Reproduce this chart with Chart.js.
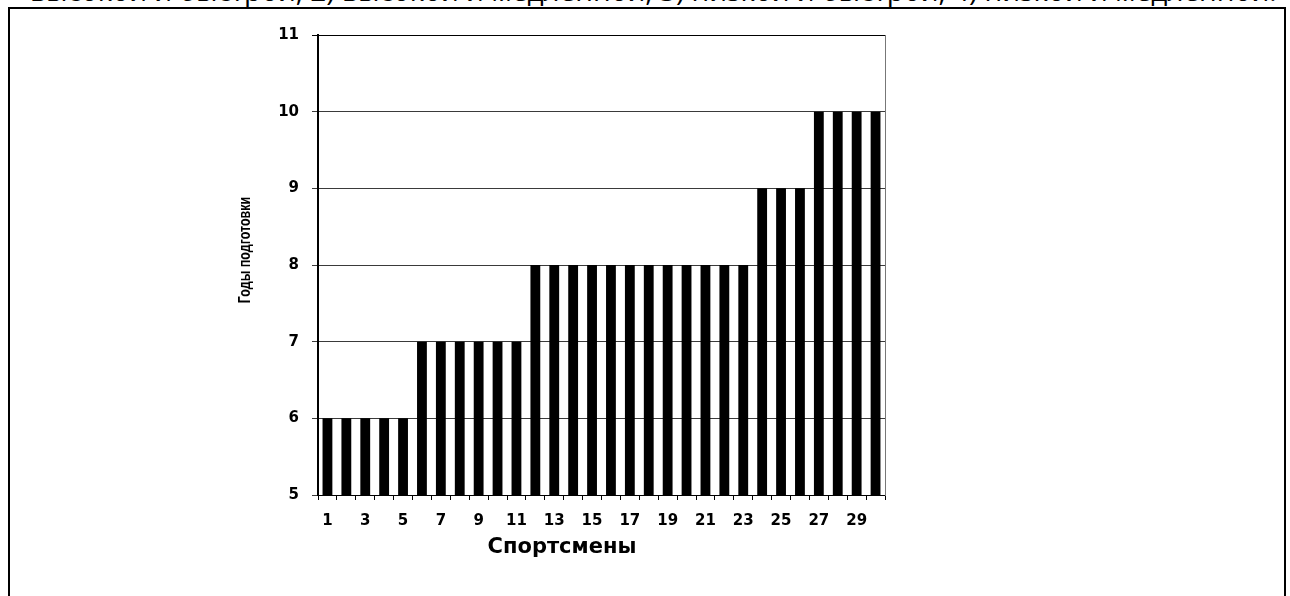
<!DOCTYPE html>
<html>
<head>
<meta charset="utf-8">
<script src="https://cdn.jsdelivr.net/npm/chart.js@4.4.1/dist/chart.umd.min.js"></script>
<style>
  html, body { margin: 0; padding: 0; background: #fff; }
  body { width: 1290px; height: 596px; position: relative; overflow: hidden; }
  #cut {
    position: absolute; left: 30px; top: -24px;
    font: 28px/28px 'Open Sans', 'Liberation Sans', sans-serif;
    white-space: nowrap; color: #000;
  }
  #frame {
    position: absolute; left: 8px; top: 7px; width: 1278px; height: 620px;
    border: 2px solid #000; box-sizing: border-box; background: transparent;
  }
  #wrap { position: absolute; left: 0; top: 0; width: 1290px; height: 596px; }
</style>
</head>
<body>
<div id="cut">высокой и быстрой, 2) высокой и медленной, 3) низкой и быстрой, 4) низкой и медленной.</div>
<div id="frame"></div>
<div id="wrap"><canvas id="chartYears"></canvas></div>
<script>
// ----- data -----
const athletes = Array.from({ length: 30 }, (_, i) => String(i + 1));
const years = [6, 6, 6, 6, 6, 7, 7, 7, 7, 7, 7, 8, 8, 8, 8, 8, 8, 8, 8, 8, 8, 8, 8, 9, 9, 9, 10, 10, 10, 10];
const yTicks = [5, 6, 7, 8, 9, 10, 11];
const xTitle = 'Спортсмены';
const yTitle = 'Годы подготовки';

const TICKFONT = "'DejaVu Sans', 'Liberation Sans', sans-serif";

// axis titles: in the scan they sit off the plot centre, so draw them by hand
const axisTitles = {
  id: 'axisTitles',
  afterDraw(chart) {
    const c = chart.ctx;
    c.save();
    c.fillStyle = '#000';
    c.textAlign = 'center';
    c.textBaseline = 'middle';

    c.font = "bold 21px 'DejaVu Sans', 'Liberation Sans', sans-serif";
    c.fillText(xTitle, 562, 548);

    // narrow bold face, squeezed along the text direction
    c.translate(246, 250);
    c.rotate(-Math.PI / 2);
    c.scale(0.78, 1);
    c.font = "bold 16px 'Liberation Sans', Arial, sans-serif";
    c.fillText(yTitle, 0, 0);
    c.restore();
  }
};

new Chart(document.getElementById('chartYears'), {
  type: 'bar',
  data: {
    labels: athletes,
    datasets: [{
      data: years,
      backgroundColor: '#000',
      borderWidth: 0,
      barPercentage: 0.52,
      categoryPercentage: 1
    }]
  },
  plugins: [axisTitles],
  options: {
    responsive: true,
    maintainAspectRatio: false,
    animation: false,
    devicePixelRatio: 1,
    layout: { padding: { left: 0, top: 35, right: 405, bottom: 0 } },
    plugins: { legend: { display: false }, tooltip: { enabled: false } },
    scales: {
      x: {
        afterFit: (s) => { s.height = 101; },
        grid: { display: true, drawOnChartArea: false, color: '#000', tickLength: 5, lineWidth: 1 },
        border: { display: true, color: '#000', width: 1 },
        ticks: {
          autoSkip: false, maxRotation: 0, padding: 12, color: '#000',
          font: { family: TICKFONT, size: 15, weight: 'bold' },
          callback: (v, i) => (i % 2 === 0 ? athletes[i] : '')
        }
      },
      y: {
        min: 5, max: 11,
        afterFit: (s) => { s.width = 318; },
        afterBuildTicks: (s) => { s.ticks = yTicks.map(v => ({ value: v })); },
        grid: {
          color: (ctx) => (ctx.tick && ctx.tick.value === 11 ? '#000' : '#3a3a3a'),
          lineWidth: 1, tickLength: 6
        },
        border: { display: true, color: '#000', width: 2 },
        ticks: {
          padding: 13, color: '#000',
          font: { family: TICKFONT, size: 15, weight: 'bold' }
        }
      },
      yRight: {
        position: 'right',
        min: 5, max: 11,
        afterFit: (s) => { s.width = 0; },
        grid: { display: false },
        border: { display: true, color: '#777', width: 1 },
        ticks: { display: false }
      }
    }
  }
});
</script>
</body>
</html>
